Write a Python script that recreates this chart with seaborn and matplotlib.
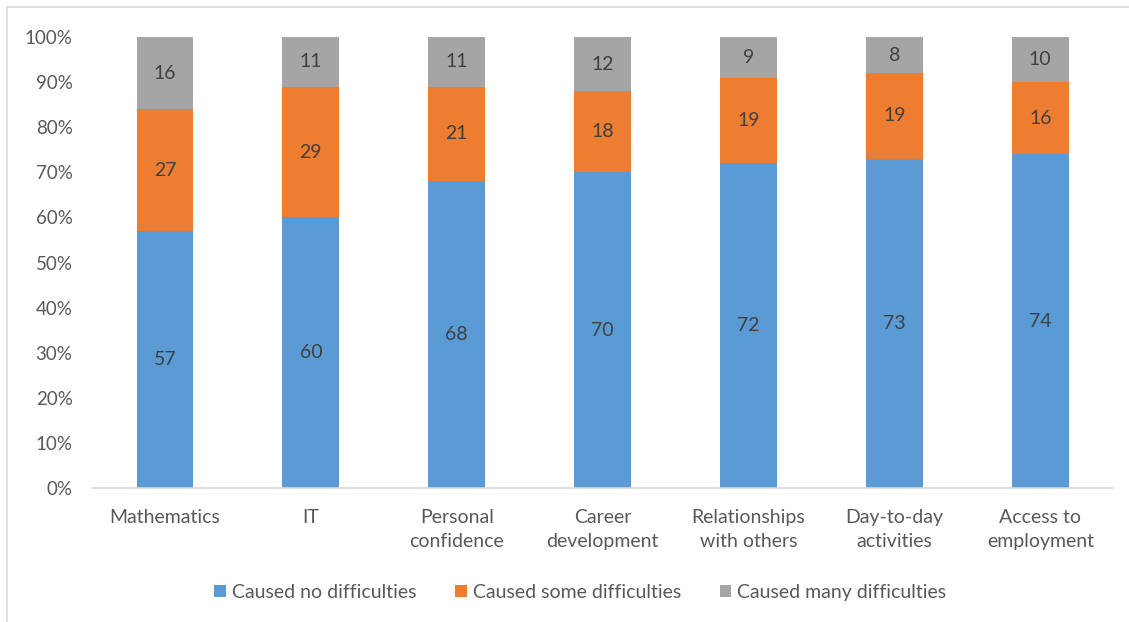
import pandas as pd
import numpy as np
import matplotlib
matplotlib.use("Agg")
import matplotlib.pyplot as plt
import seaborn as sns
from matplotlib.patches import Patch, Rectangle

categories = ["Mathematics", "IT", "Personal\nconfidence", "Career\ndevelopment",
              "Relationships\nwith others", "Day-to-day\nactivities", "Access to\nemployment"]
no_diff = [57, 60, 68, 70, 72, 73, 74]
some_diff = [27, 29, 21, 18, 19, 19, 16]
many_diff = [16, 11, 11, 12, 9, 8, 10]
series_names = ["Caused no difficulties", "Caused some difficulties", "Caused many difficulties"]
colors = ["#5B9BD5", "#ED7D31", "#A5A5A5"]

sns.set_style("white")
plt.rcParams["font.family"] = ["Lato", "DejaVu Sans"]

df = pd.DataFrame({"category": categories, "no": no_diff, "some": some_diff, "many": many_diff})
df["top1"] = df["no"]
df["top2"] = df["no"] + df["some"]
df["top3"] = df["no"] + df["some"] + df["many"]

fig = plt.figure(figsize=(11.29, 6.22), dpi=100)
ax = fig.add_axes([0.0815, 0.2154, 0.9045, 0.7251])

# draw cumulative heights back to front so they look stacked
for col, c in zip(["top3", "top2", "top1"], colors[::-1]):
    sns.barplot(data=df, x="category", y=col, color=c, width=0.39,
                saturation=1, ax=ax, edgecolor="none")

text_col = "#404040"
for i in range(len(categories)):
    bottoms = [0, no_diff[i], no_diff[i] + some_diff[i]]
    for b, v in zip(bottoms, [no_diff[i], some_diff[i], many_diff[i]]):
        ax.text(i, b + v / 2, str(v), ha="center", va="center", fontsize=14, color=text_col)

ax.set_ylim(0, 100)
ax.set_xlim(-0.5, len(categories) - 0.5)
ax.set_yticks(np.arange(0, 101, 10))
ax.set_yticklabels([f"{t}%" for t in range(0, 101, 10)], fontsize=13.5)
ax.set_xticks(range(len(categories)))
ax.set_xticklabels(categories, fontsize=14, linespacing=1.5)
ax.set_xlabel("")
ax.set_ylabel("")
ax.tick_params(axis="both", length=0, colors="#595959")
ax.tick_params(axis="y", pad=14)
ax.tick_params(axis="x", pad=15)
for s in ["top", "right", "left"]:
    ax.spines[s].set_visible(False)
ax.spines["bottom"].set_color("#D9D9D9")
ax.spines["bottom"].set_linewidth(1.2)

handles = [Patch(facecolor=c, edgecolor="none") for c in colors]
fig.legend(handles, series_names, loc="center", bbox_to_anchor=(0.514, 0.048), ncol=3,
           frameon=False, fontsize=14, labelcolor="#595959", handlelength=0.6,
           handleheight=0.6, handletextpad=0.3, columnspacing=2.0)

# chart border (right and bottom edges fall outside the picture)
fig.patches.append(Rectangle((7 / 1129, -0.05), 1.1, 1.05 - 7 / 622, transform=fig.transFigure,
                             fill=False, edgecolor="#D9D9D9", linewidth=1.2))

fig.savefig("out.png", dpi=100)
